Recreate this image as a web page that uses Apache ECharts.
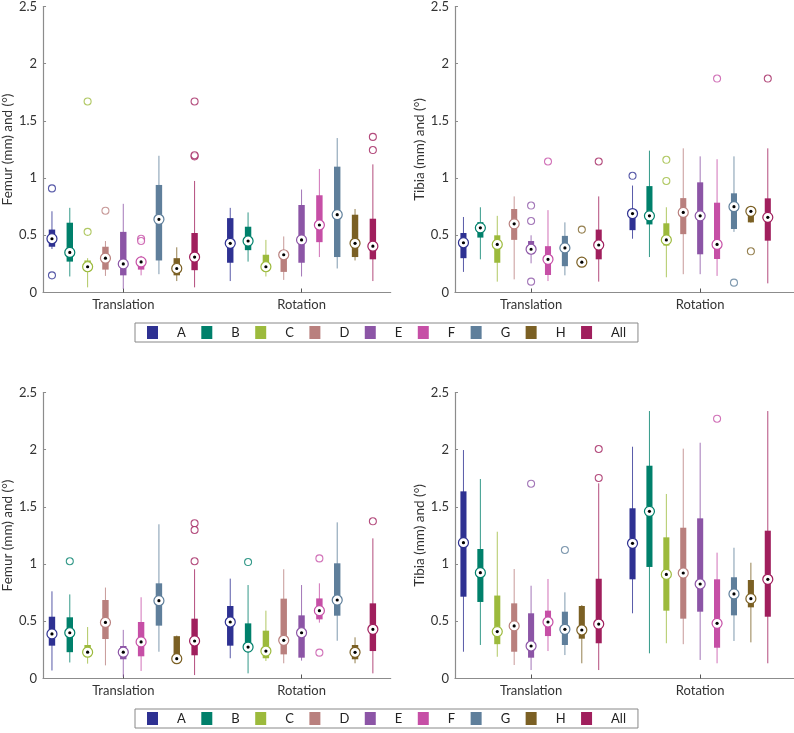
<!DOCTYPE html>
<html><head><meta charset="utf-8">
<script src="https://cdn.jsdelivr.net/npm/echarts@6/dist/echarts.min.js"></script>
<style>html,body{margin:0;padding:0;background:#fff}#c{width:794px;height:733px}</style>
</head><body><div id="c"></div><script>
const categories = ['Translation', 'Rotation'];
const groups = ['A', 'B', 'C', 'D', 'E', 'F', 'G', 'H', 'All'];
const colors = ['#2e3192', '#00806b', '#9cba3c', '#b9807e', '#8c55a6', '#c64fa6', '#5f7f9b', '#7b6024', '#a01f5d'];
const yTicks = [0, 0.5, 1, 1.5, 2, 2.5];

// each row: [min, Q1, median, Q3, max] for A..H, All
const femurTopTranslation = [
  [0.38, 0.40, 0.47, 0.55, 0.71], [0.14, 0.27, 0.35, 0.61, 0.74], [0.045, 0.21, 0.225, 0.28, 0.30],
  [0.145, 0.20, 0.30, 0.40, 0.45], [0.03, 0.15, 0.25, 0.53, 0.775], [0.15, 0.20, 0.267, 0.30, 0.32],
  [0.16, 0.28, 0.64, 0.94, 1.195], [0.10, 0.15, 0.21, 0.30, 0.395], [0.045, 0.195, 0.31, 0.52, 0.975]
];
const femurTopRotation = [
  [0.10, 0.26, 0.43, 0.65, 0.74], [0.27, 0.37, 0.45, 0.575, 0.70], [0.14, 0.20, 0.225, 0.33, 0.46],
  [0.11, 0.18, 0.33, 0.34, 0.49], [0.14, 0.26, 0.46, 0.765, 0.90], [0.31, 0.44, 0.59, 0.85, 1.08],
  [0.21, 0.31, 0.68, 1.10, 1.35], [0.28, 0.31, 0.43, 0.68, 0.73], [0.10, 0.29, 0.405, 0.645, 1.12]
];
// outliers: [category index, group index, value]
const femurTopOutliers = [
  [0, 0, 0.91], [0, 0, 0.15], [0, 2, 1.67], [0, 2, 0.53], [0, 3, 0.715], [0, 5, 0.47], [0, 5, 0.45],
  [0, 8, 1.67], [0, 8, 1.19], [0, 8, 1.2], [1, 8, 1.36], [1, 8, 1.245]
];

const tibiaTopTranslation = [
  [0.18, 0.30, 0.435, 0.52, 0.66], [0.29, 0.48, 0.565, 0.615, 0.745], [0.095, 0.26, 0.42, 0.50, 0.67],
  [0.115, 0.46, 0.60, 0.73, 0.84], [0.255, 0.34, 0.378, 0.45, 0.50], [0.10, 0.153, 0.29, 0.405, 0.72],
  [0.15, 0.23, 0.39, 0.495, 0.613], [0.225, 0.235, 0.265, 0.28, 0.29], [0.095, 0.29, 0.415, 0.55, 0.84]
];
const tibiaTopRotation = [
  [0.47, 0.545, 0.69, 0.70, 0.935], [0.31, 0.595, 0.67, 0.93, 1.24], [0.133, 0.41, 0.46, 0.605, 0.745],
  [0.16, 0.51, 0.70, 0.825, 1.26], [0.16, 0.334, 0.67, 0.963, 1.19], [0.145, 0.293, 0.42, 0.785, 1.165],
  [0.53, 0.555, 0.75, 0.867, 1.19], [0.61, 0.613, 0.71, 0.72, 0.72], [0.08, 0.453, 0.657, 0.823, 1.26]
];
const tibiaTopOutliers = [
  [0, 4, 0.76], [0, 4, 0.625], [0, 4, 0.095], [0, 5, 1.145], [0, 7, 0.55], [0, 8, 1.145],
  [1, 0, 1.02], [1, 2, 1.16], [1, 2, 0.975], [1, 5, 1.87], [1, 6, 0.086], [1, 7, 0.36], [1, 8, 1.87]
];

const femurBottomTranslation = [
  [0.07, 0.287, 0.39, 0.54, 0.762], [0.14, 0.23, 0.40, 0.535, 0.735], [0.13, 0.21, 0.23, 0.293, 0.45],
  [0.115, 0.345, 0.49, 0.686, 0.795], [0.015, 0.168, 0.23, 0.284, 0.425], [0.066, 0.194, 0.32, 0.494, 0.71],
  [0.234, 0.462, 0.68, 0.832, 1.348], [0.15, 0.16, 0.173, 0.37, 0.375], [0.03, 0.203, 0.328, 0.523, 0.955]
];
const femurBottomRotation = [
  [0.177, 0.287, 0.494, 0.634, 0.873], [0.045, 0.26, 0.275, 0.482, 0.817], [0.153, 0.177, 0.24, 0.418, 0.593],
  [0.133, 0.211, 0.334, 0.698, 0.955], [0.156, 0.182, 0.40, 0.552, 0.817], [0.488, 0.517, 0.593, 0.70, 0.832],
  [0.33, 0.549, 0.686, 1.007, 1.365], [0.133, 0.168, 0.229, 0.293, 0.36], [0.045, 0.24, 0.43, 0.657, 1.225]
];
const femurBottomOutliers = [
  [0, 1, 1.025], [0, 8, 1.357], [0, 8, 1.298], [0, 8, 1.025], [1, 1, 1.018], [1, 5, 1.05], [1, 5, 0.226], [1, 8, 1.374]
];

const tibiaBottomTranslation = [
  [0.234, 0.715, 1.187, 1.636, 1.997], [0.293, 0.669, 0.925, 1.132, 1.744], [0.19, 0.30, 0.41, 0.725, 1.283],
  [0.118, 0.234, 0.46, 0.657, 0.957], [0.074, 0.182, 0.284, 0.57, 0.811], [0.24, 0.371, 0.494, 0.593, 0.87],
  [0.205, 0.293, 0.43, 0.584, 0.753], [0.133, 0.348, 0.424, 0.634, 0.642], [0.074, 0.308, 0.476, 0.872, 1.706]
];
const tibiaBottomRotation = [
  [0.57, 0.867, 1.182, 1.488, 2.026], [0.22, 0.975, 1.461, 1.86, 2.338], [0.308, 0.593, 0.91, 1.234, 1.613],
  [0.30, 0.523, 0.922, 1.318, 2.009], [0.162, 0.584, 0.826, 1.40, 2.061], [0.133, 0.269, 0.482, 0.867, 1.10],
  [0.328, 0.552, 0.739, 0.885, 1.143], [0.316, 0.622, 0.698, 0.861, 1.012], [0.133, 0.54, 0.867, 1.292, 2.338]
];
const tibiaBottomOutliers = [
  [0, 4, 1.703], [0, 6, 1.123], [0, 8, 2.006], [0, 8, 1.753], [1, 5, 2.271]
];

const FONT = 'Lato';
const panels = [
  { trans: femurTopTranslation, rot: femurTopRotation, out: femurTopOutliers, yName: 'Femur (mm) and (°)' },
  { trans: tibiaTopTranslation, rot: tibiaTopRotation, out: tibiaTopOutliers, yName: 'Tibia (mm) and (°)' },
  { trans: femurBottomTranslation, rot: femurBottomRotation, out: femurBottomOutliers, yName: 'Femur (mm) and (°)' },
  { trans: tibiaBottomTranslation, rot: tibiaBottomRotation, out: tibiaBottomOutliers, yName: 'Tibia (mm) and (°)' }
];
const gridPos = [
  { left: 41.7, top: 6.5, width: 349, height: 286, xMax: 15 },
  { left: 455, top: 6.5, width: 339, height: 286, xMax: 15.55 },
  { left: 41.7, top: 392.5, width: 349, height: 286, xMax: 15 },
  { left: 455, top: 392.5, width: 339, height: 286, xMax: 15.55 }
];
const BOXW = 0.36;
const axisGray = '#8c8c8c';

function renderBox(params, api) {
  const x = api.value(0);
  const lo = api.coord([x, api.value(1)]);
  const q1 = api.coord([x, api.value(2)]);
  const md = api.coord([x, api.value(3)]);
  const q3 = api.coord([x, api.value(4)]);
  const hi = api.coord([x, api.value(5)]);
  const half = api.size([BOXW, 0])[0] / 2;
  const color = api.visual('color');
  return {
    type: 'group',
    children: [
      { type: 'line', shape: { x1: lo[0], y1: lo[1], x2: hi[0], y2: hi[1] }, style: { stroke: color, lineWidth: 1, opacity: 0.8 } },
      { type: 'rect', shape: { x: q3[0] - half, y: q3[1], width: half * 2, height: Math.max(q1[1] - q3[1], 1) }, style: { fill: color } },
      { type: 'circle', shape: { cx: md[0], cy: md[1], r: 5 }, style: { fill: '#fff', stroke: color, lineWidth: 1.2 } },
      { type: 'circle', shape: { cx: md[0], cy: md[1], r: 1.6 }, style: { fill: '#000' } }
    ]
  };
}

const grid = [], xAxis = [], yAxis = [], series = [];
panels.forEach((p, i) => {
  const g = gridPos[i];
  grid.push({ left: g.left, top: g.top, width: g.width, height: g.height });
  xAxis.push({
    gridIndex: i, type: 'value', min: -4.5, max: g.xMax,
    axisLine: { show: true, onZero: false, lineStyle: { color: axisGray, width: 1.2 } },
    axisTick: { show: true, inside: true, length: 4, customValues: [0, 10], lineStyle: { color: '#555' } },
    axisLabel: { customValues: [0, 10], formatter: v => categories[Math.round(v / 10)], margin: 6, fontSize: 13, color: '#333', fontFamily: FONT },
    splitLine: { show: false }
  });
  yAxis.push({
    gridIndex: i, type: 'value', min: yTicks[0], max: yTicks[yTicks.length - 1], interval: 0.5,
    name: p.yName, nameLocation: 'middle', nameGap: 28,
    nameTextStyle: { fontSize: 13.5, color: '#333', fontFamily: FONT },
    axisLine: { show: true, onZero: false, lineStyle: { color: axisGray, width: 1.2 } },
    axisTick: { show: true, inside: true, length: 3, lineStyle: { color: axisGray } },
    axisLabel: { fontSize: 13, color: '#333', margin: 6, fontFamily: FONT },
    splitLine: { show: false }
  });
  groups.forEach((name, gi) => {
    const data = [p.trans, p.rot].map((arr, ci) => [ci * 10 + (gi - 4)].concat(arr[gi]));
    series.push({
      type: 'custom', name: name, xAxisIndex: i, yAxisIndex: i,
      itemStyle: { color: colors[gi] },
      renderItem: renderBox,
      encode: { x: 0, y: [1, 2, 3, 4, 5] },
      data: data, z: 2
    });
    const outs = p.out.filter(o => o[1] === gi).map(o => [o[0] * 10 + (o[1] - 4), o[2]]);
    if (outs.length) {
      series.push({
        type: 'scatter', name: name, xAxisIndex: i, yAxisIndex: i,
        symbol: 'circle', symbolSize: 7,
        itemStyle: { color: '#fff', borderColor: colors[gi], borderWidth: 1.1 },
        data: outs, z: 3
      });
    }
  });
});

function makeLegend(top) {
  return {
    left: 135, top: top, orient: 'horizontal',
    data: groups.map((n, gi) => ({ name: n, icon: 'rect', itemStyle: { color: colors[gi], borderWidth: 0 } })),
    itemWidth: 11, itemHeight: 13, itemGap: 15.5,
    padding: [3, 12], borderColor: '#888', borderWidth: 1,
    selectedMode: false,
    textStyle: { fontSize: 13, color: '#222', fontFamily: FONT, width: 22, padding: [0, 0, 0, 14] }
  };
}

const chart = echarts.init(document.getElementById('c'), null, { renderer: 'canvas' });
chart.setOption({
  animation: false,
  backgroundColor: '#fff',
  textStyle: { fontFamily: FONT },
  grid, xAxis, yAxis, series,
  legend: [makeLegend(323), makeLegend(709)]
});
</script></body></html>
